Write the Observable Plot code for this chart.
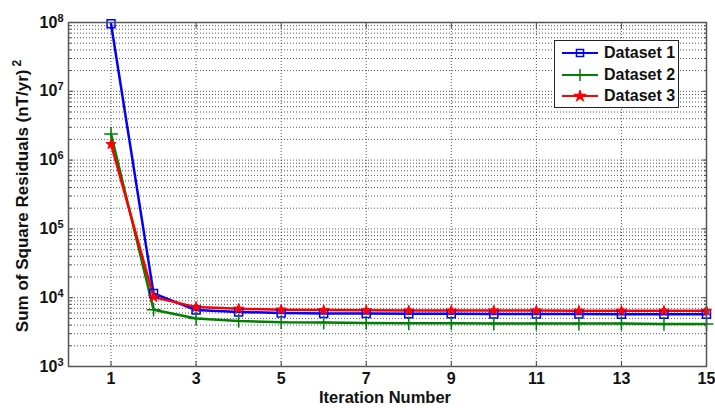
<!DOCTYPE html>
<html><head><meta charset="utf-8">
<script src="https://cdn.jsdelivr.net/npm/d3@7"></script>
<script src="https://cdn.jsdelivr.net/npm/@observablehq/plot@0.6"></script>
<style>
body{margin:0;background:#fff;font-family:"Liberation Sans",Arial,sans-serif;}
#wrap{position:relative;width:715px;height:408px;}
#legend{position:absolute;left:554px;top:40px;width:125px;height:68px;border:1px solid #222;background:#fff;box-sizing:border-box;}
.lg{position:absolute;left:6px;height:20px;display:flex;align-items:center;font-weight:bold;font-size:16px;color:#111;white-space:nowrap;}
.lg svg{margin-right:5px;}
</style></head>
<body><div id="wrap"><div id="chart"></div>
<div id="legend"></div></div>
<script>
const iterations = [1,2,3,4,5,6,7,8,9,10,11,12,13,14,15];
const dataset1 = [9.6e7,1.15e4,6.6e3,6.2e3,6.0e3,5.9e3,5.9e3,5.85e3,5.85e3,5.8e3,5.8e3,5.8e3,5.75e3,5.75e3,5.75e3];
const dataset2 = [2.4e6,6.7e3,5.0e3,4.6e3,4.4e3,4.35e3,4.3e3,4.25e3,4.25e3,4.2e3,4.2e3,4.2e3,4.2e3,4.15e3,4.15e3];
const dataset3 = [1.7e6,1.02e4,7.3e3,6.9e3,6.7e3,6.6e3,6.55e3,6.5e3,6.5e3,6.5e3,6.5e3,6.45e3,6.45e3,6.45e3,6.45e3];
const seriesNames = ["Dataset 1","Dataset 2","Dataset 3"];
const seriesColors = ["#0000ff","#008000","#ff0000"];
const xTicks = [1,3,5,7,9,11,13,15];
const yMajor = [1e3,1e4,1e5,1e6,1e7,1e8];

const yMinor = [];
for (let e = 3; e < 8; e++) for (let m = 2; m <= 9; m++) yMinor.push(m * 10 ** e);

const rows = [];
[dataset1, dataset2, dataset3].forEach((vals, i) => vals.forEach((v, j) => rows.push({it: iterations[j], v, s: seriesNames[i]})));

const font = '"Liberation Sans",Arial,sans-serif';
const grid = {stroke: "#222", strokeOpacity: 0.85, strokeDasharray: "1,2", strokeWidth: 0.9};

const plot = Plot.plot({
  width: 715, height: 408,
  marginLeft: 68, marginRight: 9, marginTop: 22, marginBottom: 42,
  style: {fontFamily: font, fontSize: "16px", fontWeight: "bold", color: "#111", background: "#fff"},
  x: {domain: [0, 15]},
  y: {type: "log", domain: [1e3, 1e8]},
  color: {domain: seriesNames, range: seriesColors},
  marks: [
    Plot.ruleY(yMinor, {...grid}),
    Plot.ruleY(yMajor, {...grid}),
    Plot.ruleX(xTicks, {...grid}),
    Plot.axisX({anchor: "bottom", ticks: xTicks, tickSize: -5, text: null, stroke: "#444", label: null}),
    Plot.axisX({anchor: "top", ticks: xTicks, tickSize: -5, text: null, stroke: "#444", label: null}),
    Plot.axisX({anchor: "bottom", ticks: xTicks, tickSize: 0, tickPadding: 6, label: null, tickFormat: d => d, fontSize: 16}),
    Plot.axisY({anchor: "left", ticks: yMinor, tickSize: -3, text: null, stroke: "#444", label: null}),
    Plot.axisY({anchor: "right", ticks: yMinor, tickSize: -3, text: null, stroke: "#444", label: null}),
    Plot.axisY({anchor: "left", ticks: yMajor, tickSize: -5, text: null, stroke: "#444", label: null}),
    Plot.axisY({anchor: "right", ticks: yMajor, tickSize: -5, text: null, stroke: "#444", label: null}),
    Plot.axisY({anchor: "left", ticks: yMajor, tickSize: 0, tickPadding: 5, label: null, fontSize: 16, tickFormat: d => "10^" + Math.round(Math.log10(d))}),
    Plot.line(rows, {x: "it", y: "v", z: "s", stroke: "s", strokeWidth: 2.5}),
    Plot.dot(rows.filter(d => d.s === "Dataset 1"), {x: "it", y: "v", symbol: "square", stroke: seriesColors[0], fill: "none", r: 4.5, strokeWidth: 1.5}),
    Plot.dot(rows.filter(d => d.s === "Dataset 2"), {x: "it", y: "v", symbol: "plus", stroke: seriesColors[1], fill: seriesColors[1], r: 4.5, strokeWidth: 1.5}),
    Plot.dot(rows.filter(d => d.s === "Dataset 3"), {x: "it", y: "v", symbol: "star", fill: seriesColors[2], stroke: seriesColors[2], r: 3.2, strokeWidth: 1}),
    Plot.frame({stroke: "#555", strokeWidth: 1.5})
  ]
});
document.getElementById("chart").appendChild(plot);

const svg = d3.select(plot);
// superscripts on y tick labels
svg.selectAll("text").each(function() {
  const t = d3.select(this);
  const m = /^10\^(\d+)$/.exec(t.text());
  if (m) {
    t.text("10");
    t.append("tspan").attr("dy", "-0.55em").attr("font-size", "11px").text(m[1]);
  }
});

// axis titles
svg.append("text").attr("x", 385).attr("y", 403).attr("text-anchor", "middle")
  .attr("font-size", "16.5px").attr("font-weight", "bold").attr("fill", "#111").attr("font-family", font)
  .text("Iteration Number");
const yl = svg.append("text").attr("transform", "translate(28,196) rotate(-90)").attr("text-anchor", "middle")
  .attr("font-size", "17px").attr("font-weight", "bold").attr("fill", "#111").attr("font-family", font);
yl.append("tspan").text("Sum of Square Residuals (nT/yr)");
yl.append("tspan").attr("dy", "-0.55em").attr("dx", "3").attr("font-size", "12px").text("2");

// legend
const lg = document.getElementById("legend");
seriesNames.forEach((n, i) => {
  const div = document.createElement("div");
  div.className = "lg";
  div.style.top = (2 + i * 21.5) + "px";
  const sym = d3.symbol(i === 0 ? d3.symbolSquare : i === 1 ? d3.symbolPlus : d3.symbolStar, i === 2 ? 30 : 50)();
  div.innerHTML = `<svg width="38" height="12"><line x1="1" x2="37" y1="6" y2="6" stroke="${seriesColors[i]}" stroke-width="2"/>
    <path transform="translate(19,6)" d="${sym}" fill="${i === 0 ? "none" : seriesColors[i]}" stroke="${seriesColors[i]}" stroke-width="1.5"/></svg><span>${n}</span>`;
  lg.appendChild(div);
});
</script></body></html>
